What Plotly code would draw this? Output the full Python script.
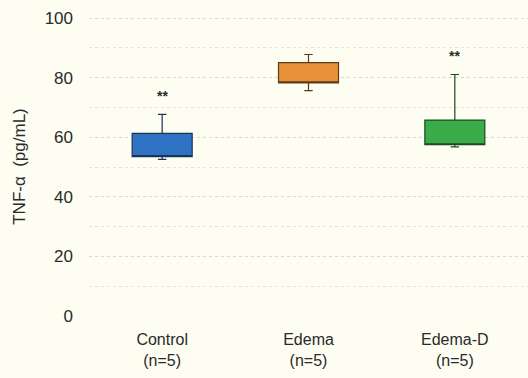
import plotly.graph_objects as go

# Group labels and summary statistics (pg/mL)
groups = ["Control<br>(n=5)", "Edema<br>(n=5)", "Edema-D<br>(n=5)"]
lower = [52.6, 75.7, 56.8]
q1 = [53.5, 78.3, 57.5]
q3 = [61.3, 85.1, 65.8]
upper = [67.7, 87.8, 81.1]
signif = ["**", "", "**"]

fills = ["#2e72c4", "#e8913a", "#3aad48"]
edges = ["#1c3454", "#5e3a18", "#1b4a22"]

fig = go.Figure()
for i, g in enumerate(groups):
    fig.add_trace(go.Box(
        x=[g], q1=[q1[i]], median=[q1[i]], q3=[q3[i]],
        lowerfence=[lower[i]], upperfence=[upper[i]],
        fillcolor=fills[i],
        line=dict(color=edges[i], width=1.2),
        whiskerwidth=0.14, width=0.41,
        boxpoints=False, showlegend=False, hoverinfo="skip",
    ))
    if signif[i]:
        fig.add_annotation(x=g, y=upper[i], text="<b>" + signif[i] + "</b>", showarrow=False,
                           yshift=18, font=dict(size=14, color="#2a2a2a"))

fig.update_layout(
    width=528, height=378,
    margin=dict(l=89, r=0, t=17, b=62),
    paper_bgcolor="#fdfdf2", plot_bgcolor="#fdfdf2",
    font=dict(family="Liberation Sans, Arial, sans-serif", size=17, color="#2a2a2a"),
)
fig.update_xaxes(showline=False, showgrid=False, ticks="", tickfont=dict(size=16),
                 ticklabelstandoff=12, range=[-0.5, 2.5])
fig.update_yaxes(range=[0, 100.4], tickvals=[0, 20, 40, 60, 80, 100],
                 showline=False, zeroline=False,
                 gridcolor="#d8d8d0", griddash="dot", gridwidth=1,
                 minor=dict(dtick=10, showgrid=True, gridcolor="#e4e4dc", griddash="dot"),
                 ticks="", ticklabelstandoff=15, tickfont=dict(size=17),
                 title=dict(text="TNF-α  (pg/mL)", font=dict(size=17), standoff=14))

fig.write_html("out.html")
